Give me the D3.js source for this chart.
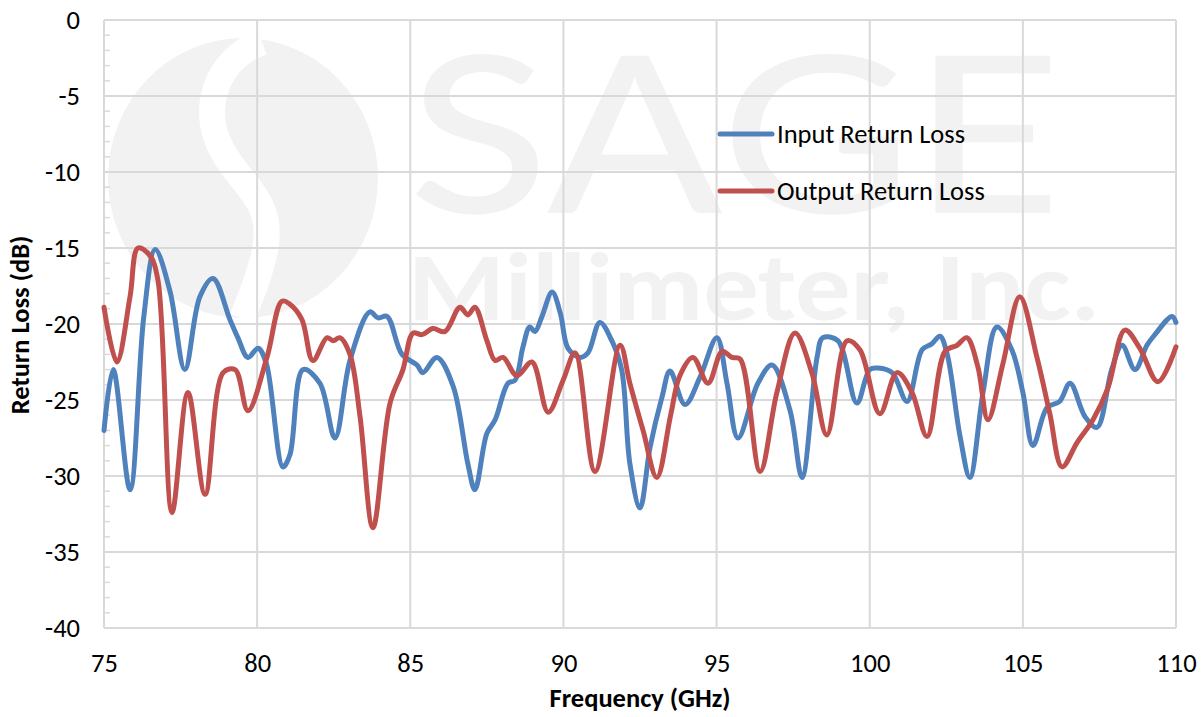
<!DOCTYPE html>
<html><head><meta charset="utf-8">
<script src="https://cdn.jsdelivr.net/npm/d3@7"></script>
<style>body{margin:0;background:#fff}svg{display:block}text{font-family:Calibri,Carlito,"Open Sans",sans-serif}</style>
</head><body>
<script>
const inputFreq = [75,75.3,75.85,76.3,76.67,77.15,77.64,78.13,78.56,79.11,79.37,79.7,80.03,80.3,80.84,81.07,81.5,82.05,82.54,83.03,83.68,83.95,84.24,84.73,85.22,85.41,85.87,86.4,86.88,87.11,87.5,87.77,88.19,88.42,88.68,88.9,89.07,89.3,89.63,89.9,90.15,90.54,90.8,91.19,91.58,91.9,92.17,92.5,92.83,93.22,93.48,93.97,94.46,95.01,95.34,95.7,96.35,96.81,97.4,97.79,98.28,98.47,98.96,99.58,100.0,100.27,100.73,101.22,101.71,102.03,102.29,102.52,102.95,103.27,103.7,104.15,104.64,105.0,105.33,105.79,106.2,106.54,107.03,107.42,107.9,108.24,108.66,109.05,109.31,109.87,110];
const inputLoss = [-27.0,-23.0,-30.9,-19.5,-15.1,-17.8,-23.0,-18.2,-17.0,-19.7,-20.9,-22.2,-21.6,-22.6,-29.4,-28.6,-23.0,-23.9,-27.5,-22.4,-19.2,-19.6,-19.5,-22.0,-22.7,-23.2,-22.2,-24.1,-29.2,-30.9,-27.2,-26.3,-23.9,-23.7,-21.5,-20.2,-20.5,-19.5,-17.9,-19.3,-21.6,-22.2,-21.9,-19.9,-21.1,-23.0,-29.2,-32.1,-28.1,-24.8,-23.1,-25.3,-23.5,-20.9,-23.9,-27.5,-23.9,-22.7,-25.7,-30.1,-22.2,-20.9,-21.1,-25.2,-23.0,-22.9,-23.2,-25.1,-21.7,-21.3,-20.8,-21.9,-27.4,-30.1,-24.5,-20.2,-21.7,-24.5,-28.0,-25.5,-25.1,-23.9,-26.1,-26.8,-23.0,-21.4,-23.0,-21.4,-20.7,-19.5,-19.9];
const outputFreq = [75,75.42,75.85,76.11,76.5,76.76,77.22,77.74,78.3,78.89,79.28,79.7,80.32,80.81,81.07,81.46,81.82,82.28,82.48,82.7,83.03,83.36,83.78,84.34,84.76,85.09,85.38,85.74,86.13,86.62,86.88,87.11,87.5,87.77,88.03,88.48,88.97,89.5,89.99,90.38,91.03,91.85,92.17,92.6,93.05,93.5,93.8,94.23,94.72,95.18,95.5,95.77,96.42,96.97,97.56,98.11,98.6,99.26,99.68,100.33,100.89,101.38,101.87,102.46,102.85,103.17,103.53,103.86,104.35,104.9,105.46,105.88,106.28,106.77,107.29,107.78,108.33,108.82,109.41,110];
const outputLoss = [-18.9,-22.5,-18.2,-15.0,-15.5,-17.1,-32.4,-24.5,-31.2,-23.2,-23.0,-25.7,-22.2,-18.5,-18.7,-19.7,-22.4,-20.9,-21.1,-20.9,-22.0,-26.1,-33.4,-25.2,-23.0,-20.6,-20.7,-20.3,-20.5,-18.9,-19.4,-18.9,-21.1,-22.4,-22.2,-23.4,-22.5,-25.8,-23.7,-21.9,-29.7,-21.4,-23.9,-27.0,-30.1,-26.0,-23.4,-22.2,-23.9,-21.8,-22.2,-22.3,-29.7,-24.5,-20.6,-23.2,-27.3,-21.1,-21.7,-25.9,-23.2,-24.5,-27.4,-21.8,-21.4,-20.9,-22.8,-26.3,-22.6,-18.2,-22.2,-25.9,-29.4,-27.8,-26.3,-24.2,-20.4,-21.6,-23.8,-21.5];
const xTicks = [75,80,85,90,95,100,105,110];
const yTicks = [0,-5,-10,-15,-20,-25,-30,-35,-40];
const seriesNames = ["Input Return Loss","Output Return Loss"];
const seriesColors = ["#4F81BD","#C0504D"];

const W=1202,H=717, L=104,R=1176,T=20,B=628, FS=26.5;
const svg=d3.select("body").append("svg").attr("width",W).attr("height",H);
const x=d3.scaleLinear().domain([75,110]).range([L,R]);
const y=d3.scaleLinear().domain([-40,0]).range([B,T]);

// watermark (company logo behind plot)
const wm=svg.append("g");
wm.append("ellipse").attr("cx",243).attr("cy",178).attr("rx",135).attr("ry",140).attr("fill","#f2f2f2");
wm.append("path").attr("d","M262,42 C215,60 200,110 222,150 C240,185 275,200 265,250 C258,285 248,300 243,318")
  .attr("fill","none").attr("stroke","#fff").attr("stroke-width",26);
wm.append("text").attr("x",408).attr("y",213).attr("font-size",245).attr("fill","#f2f2f2").attr("textLength",655).attr("lengthAdjust","spacingAndGlyphs").attr("font-family","Liberation Sans").text("SAGE");
wm.append("text").attr("x",408).attr("y",320).attr("font-size",97).attr("font-weight","bold").attr("fill","#f2f2f2").attr("textLength",692).attr("lengthAdjust","spacingAndGlyphs").attr("font-family","Liberation Sans").text("Millimeter, Inc.");

// grid
svg.append("g").selectAll("line").data(yTicks).join("line")
 .attr("x1",L).attr("x2",R).attr("y1",d=>y(d)).attr("y2",d=>y(d)).attr("stroke","#d9d9d9").attr("stroke-width",2);
svg.append("g").selectAll("line").data(xTicks).join("line")
 .attr("y1",T).attr("y2",B).attr("x1",d=>x(d)).attr("x2",d=>x(d)).attr("stroke","#d9d9d9").attr("stroke-width",2);
// minor ticks
svg.append("g").selectAll("line").data(d3.range(-40,1,1)).join("line")
 .attr("x1",L).attr("x2",L+6).attr("y1",d=>y(d)).attr("y2",d=>y(d)).attr("stroke","#d9d9d9").attr("stroke-width",1.5);

// axes labels
const ya=svg.append("g").attr("transform",`translate(${L},0)`).call(d3.axisLeft(y).tickValues(yTicks).tickSize(0).tickPadding(24).tickFormat(d=>String(d)));
ya.select(".domain").remove();
ya.selectAll("text").attr("font-size",FS).attr("fill","#000");
const xa=svg.append("g").attr("transform",`translate(0,${B})`).call(d3.axisBottom(x).tickValues(xTicks).tickSize(0).tickPadding(25));
xa.select(".domain").remove();
xa.selectAll("text").attr("font-size",FS).attr("fill","#000");

svg.append("text").attr("x",640).attr("y",707).attr("text-anchor","middle").attr("font-size",FS).attr("font-weight","bold").text("Frequency (GHz)");
svg.append("text").attr("transform","translate(29,325) rotate(-90)").attr("text-anchor","middle").attr("font-size",FS).attr("font-weight","bold").text("Return Loss (dB)");

// lines
const line=d3.line().x(d=>x(d[0])).y(d=>y(d[1])).curve(d3.curveCatmullRom.alpha(0.5));
const series=[d3.zip(inputFreq,inputLoss), d3.zip(outputFreq,outputLoss)];
svg.append("g").selectAll("path").data(series).join("path")
 .attr("d",line).attr("fill","none").attr("stroke",(d,i)=>seriesColors[i]).attr("stroke-width",5).attr("stroke-linejoin","round").attr("stroke-linecap","round");

// legend
const lg=svg.append("g").selectAll("g").data(seriesNames).join("g").attr("transform",(d,i)=>`translate(718,${134+i*57})`);
lg.append("line").attr("x1",2).attr("x2",54).attr("stroke",(d,i)=>seriesColors[i]).attr("stroke-width",5).attr("stroke-linecap","round");
lg.append("text").attr("x",59).attr("y",9).attr("font-size",FS).text(d=>d);
</script>
</body></html>
